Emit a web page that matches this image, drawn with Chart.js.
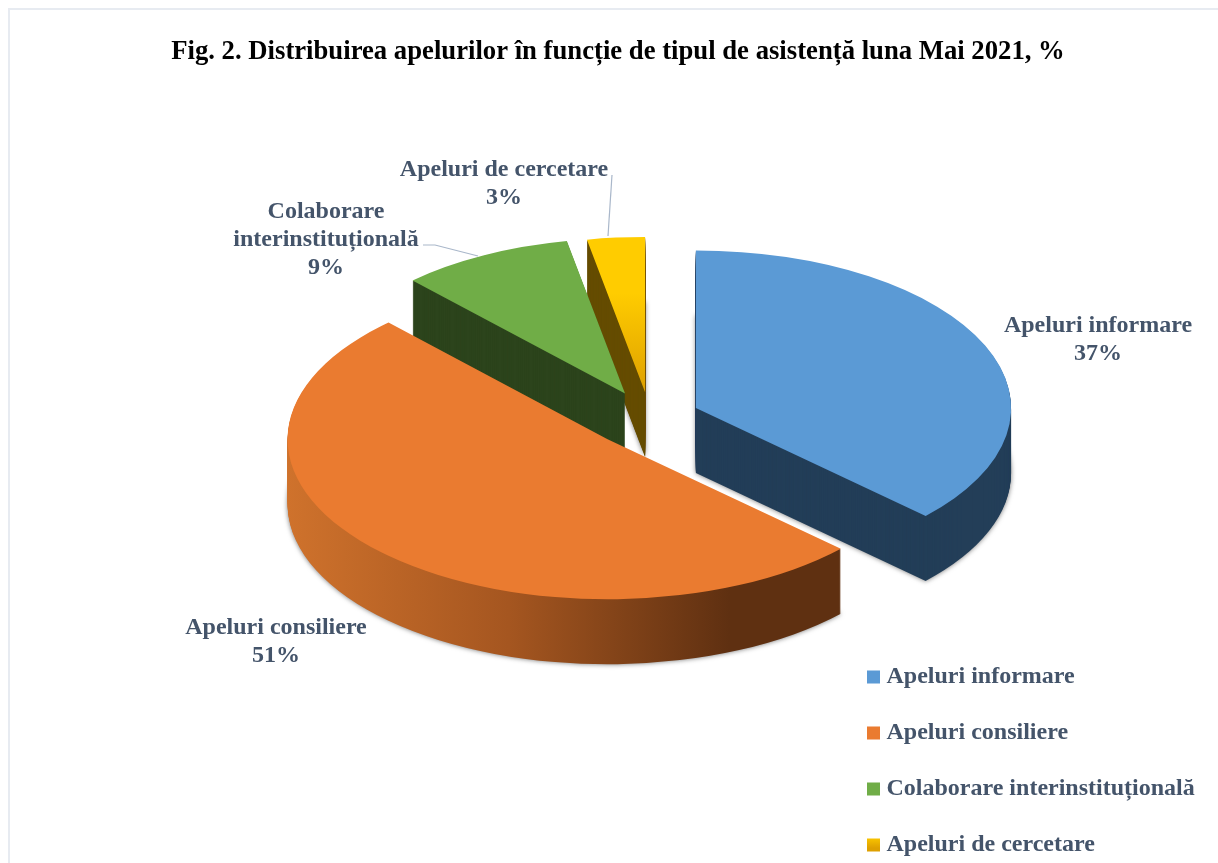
<!DOCTYPE html>
<html>
<head>
<meta charset="utf-8">
<title>Fig. 2</title>
<script src="https://cdn.jsdelivr.net/npm/chart.js@4"></script>
<style>
html, body { margin:0; padding:0; background:#fff; overflow:hidden; }
#frame { position:absolute; left:8px; top:8px; width:1216px; height:860px; border:2px solid #e7ebf1; background:#fff; }
canvas { display:block; }
</style>
</head>
<body>
<div id="frame"><canvas id="pie" width="1216" height="853"></canvas></div>
<script>
const titleText = 'Fig. 2. Distribuirea apelurilor în funcție de tipul de asistență luna Mai 2021, %';
const categories = ['Apeluri informare', 'Apeluri consiliere', 'Colaborare interinstituțională', 'Apeluri de cercetare'];
const percents = [37, 51, 9, 3];

const sliceColors = ['#5b9ad5', '#ea7b30', '#70ad47', '#ffcc00'];
const wallColors = ['#233e58', '#5f3011', '#2c441c', '#654c00'];
const explode = [50, 60, 55, 52];
const sliceScale = [0.985, 1, 0.97, 0.97];

// label text lines and where they sit on the canvas (centre x, first baseline)
const labelLines = [['Apeluri informare'], ['Apeluri consiliere'], ['Colaborare', 'interinstituțională'], ['Apeluri de cercetare']];
const labelSpots = [[1088, 322], [266, 624], [316, 208], [494, 166]];
const leaderLines = [null, null, [[413, 235], [425, 235], [468, 246]], [[602, 165], [598, 226]]];

const squash = 0.5;
const depth = 65;
const pieShiftX = 32;
const textColor = '#44546a';
const serif = '"Liberation Serif", serif';

const ctx = document.getElementById('pie').getContext('2d');

function vertical(y0, y1) {
    const g = ctx.createLinearGradient(0, y0, 0, y1);
    g.addColorStop(0, '#ffcc00');
    g.addColorStop(1, '#dea000');
    return g;
}

// orange rim darkens from left to right
function orangeWall() {
    const g = ctx.createLinearGradient(288, 0, 730, 0);
    g.addColorStop(0, '#cf722c');
    g.addColorStop(0.5, '#a55620');
    g.addColorStop(1, '#5f3011');
    return g;
}

const sliceFills = [sliceColors[0], sliceColors[1], sliceColors[2], vertical(204, 408)];
const legendFills = [sliceColors[0], sliceColors[1], sliceColors[2], vertical(826, 838)];

// pull a slice out along its middle angle, sized around its own apex
function moveSlice(c, arc, i) {
    const mid = (arc.startAngle + arc.endAngle) / 2;
    c.translate(arc.x + Math.cos(mid) * explode[i], arc.y + Math.sin(mid) * explode[i]);
    c.scale(sliceScale[i], sliceScale[i]);
    c.translate(-arc.x, -arc.y);
}

function slicePath(c, arc) {
    c.beginPath();
    c.moveTo(arc.x, arc.y);
    c.arc(arc.x, arc.y, arc.outerRadius, arc.startAngle, arc.endAngle);
    c.closePath();
}

const pie3d = {
    id: 'pie3d',
    afterLayout(chart) {
        // legend lives bottom right, chart area stays centred on the pie
        chart.legend.left = 830.5;
        chart.legend.top = 623;
        chart.legend.bottom = 2000;
    },
    beforeDatasetsDraw(chart) {
        const cy = chart.getDatasetMeta(0).data[0].y;
        const c = chart.ctx;
        c.save();
        c.translate(pieShiftX, cy);
        c.scale(1, squash);
        c.translate(0, -cy);
    },
    beforeDatasetDraw(chart) {
        const arcs = chart.getDatasetMeta(0).data;
        const c = chart.ctx;
        // back slices first so the front ones cover their walls
        [3, 2, 0, 1].forEach(i => {
            c.fillStyle = i === 1 ? orangeWall() : wallColors[i];
            for (let k = depth; k >= 1; k--) {
                c.save();
                if (k === depth) {
                    c.shadowColor = 'rgba(0,0,0,0.55)';
                    c.shadowBlur = 5;
                }
                c.translate(0, k / squash);
                moveSlice(c, arcs[i], i);
                slicePath(c, arcs[i]);
                c.fill();
                c.restore();
            }
        });
        arcs.forEach((arc, i) => {
            c.save();
            moveSlice(c, arc, i);
            arc.draw(c);
            c.restore();
        });
        return false;
    },
    afterDatasetsDraw(chart) {
        const c = chart.ctx;
        c.restore();
        c.save();
        leaderLines.forEach(pts => {
            if (!pts) return;
            c.strokeStyle = '#a9b7ca';
            c.lineWidth = 1.2;
            c.beginPath();
            pts.forEach((p, n) => n ? c.lineTo(p[0], p[1]) : c.moveTo(p[0], p[1]));
            c.stroke();
        });
        c.fillStyle = textColor;
        c.font = 'bold 24px ' + serif;
        c.textAlign = 'center';
        c.textBaseline = 'alphabetic';
        labelSpots.forEach((spot, i) => {
            const lines = [...labelLines[i], percents[i] + '%'];
            lines.forEach((t, n) => c.fillText(t, spot[0], spot[1] + n * 28));
        });
        c.restore();
    }
};

new Chart(ctx, {
    type: 'pie',
    data: {
        labels: categories,
        datasets: [{
            data: percents,
            backgroundColor: sliceFills,
            borderWidth: 0,
            clip: false
        }]
    },
    plugins: [pie3d],
    options: {
        responsive: false,
        animation: false,
        radius: 320,
        layout: { padding: { bottom: 106 } },
        plugins: {
            tooltip: { enabled: false },
            title: {
                display: true,
                text: titleText,
                color: '#000',
                font: { family: serif, size: 26.7, weight: 'bold' },
                padding: { top: 26, bottom: 11 }
            },
            legend: {
                position: 'chartArea',
                align: 'start',
                labels: {
                    boxWidth: 2,
                    boxHeight: 2,
                    padding: 32,
                    color: textColor,
                    font: { family: serif, size: 24, weight: 'bold' },
                    // wide stroke around a thin box keeps the text close to the swatch
                    generateLabels: () => categories.map((t, i) => ({
                        text: t,
                        fillStyle: legendFills[i],
                        strokeStyle: legendFills[i],
                        lineWidth: 11,
                        fontColor: textColor,
                        index: i
                    }))
                }
            }
        }
    }
});
</script>
</body>
</html>
